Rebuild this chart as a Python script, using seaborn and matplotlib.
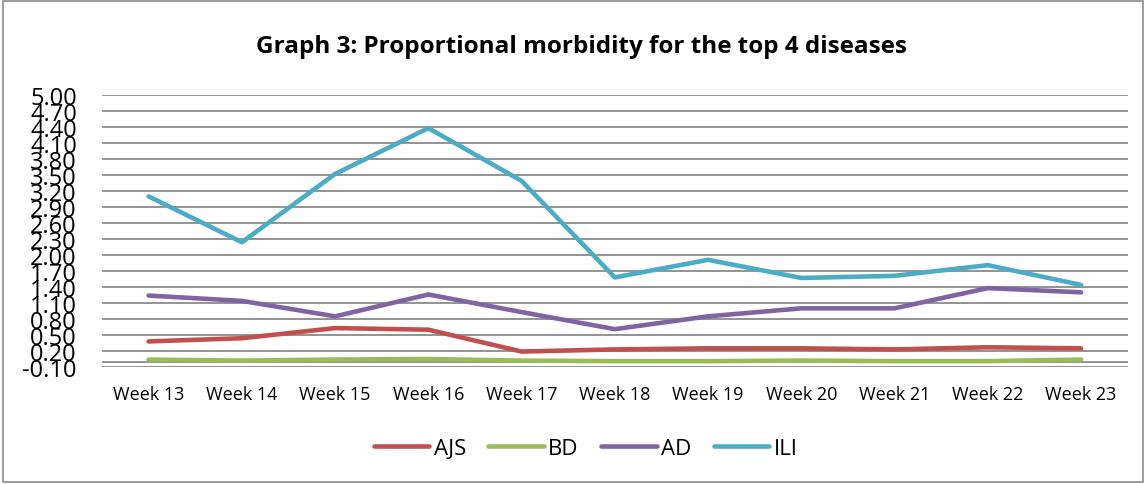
import numpy as np
import pandas as pd
import seaborn as sns
import matplotlib.pyplot as plt
from matplotlib.patches import Rectangle

# Data
weeks = ['Week 13', 'Week 14', 'Week 15', 'Week 16', 'Week 17', 'Week 18',
         'Week 19', 'Week 20', 'Week 21', 'Week 22', 'Week 23']
AJS = [0.38, 0.44, 0.63, 0.60, 0.19, 0.23, 0.25, 0.25, 0.23, 0.27, 0.25]
BD = [0.04, 0.02, 0.04, 0.05, 0.02, 0.01, 0.01, 0.02, 0.01, 0.01, 0.04]
AD = [1.24, 1.14, 0.85, 1.26, 0.93, 0.61, 0.85, 1.00, 1.00, 1.38, 1.30]
ILI = [3.10, 2.24, 3.52, 4.38, 3.39, 1.58, 1.91, 1.57, 1.61, 1.81, 1.44]
diseases = ['AJS', 'BD', 'AD', 'ILI']
colors = ['#C0504D', '#9BBB59', '#8064A2', '#4BACC6']
y_ticks = [-0.10, 0.20, 0.50, 0.80, 1.10, 1.40, 1.70, 2.00, 2.30, 2.60,
           2.90, 3.20, 3.50, 3.80, 4.10, 4.40, 4.70, 5.00]

data = pd.DataFrame({
    'Week': weeks * 4,
    'Value': AJS + BD + AD + ILI,
    'Disease': [d for d in diseases for _ in weeks],
})

sns.set_style('white')
plt.rcParams['font.family'] = ['Open Sans', 'DejaVu Sans']
plt.rcParams['text.color'] = 'black'
plt.rcParams['xtick.color'] = 'black'
plt.rcParams['ytick.color'] = 'black'

fig = plt.figure(figsize=(11.46, 4.85), dpi=100)
ax = fig.add_axes([0.089, 0.2412, 0.895, 0.5608])

# chart frame
fig.patches.append(Rectangle((0.003, 0.004), 0.994, 0.992, transform=fig.transFigure,
                             fill=False, edgecolor='#8c8c8c', linewidth=1.2))

for y in y_ticks:
    ax.axhline(y, color='#8a8a8a', linewidth=1.3, zorder=0)
ax.axhline(0, color='#8a8a8a', linewidth=1.3, zorder=0)

sns.lineplot(data=data, x='Week', y='Value', hue='Disease', hue_order=diseases,
             palette=colors, linewidth=3.3, ax=ax, sort=False)

ax.set_xlim(-0.5, len(weeks) - 0.5)
ax.set_ylim(-0.1, 5.0)
ax.set_yticks(y_ticks)
ax.set_yticklabels([f'{v:.2f}' for v in y_ticks], fontsize=17)
ax.tick_params(axis='y', length=0, pad=18)
ax.tick_params(axis='x', length=0, pad=13, labelsize=13)
for s in ax.spines.values():
    s.set_visible(False)
ax.set_xlabel('')
ax.set_ylabel('')

fig.text(0.507, 0.903, 'Graph 3: Proportional morbidity for the top 4 diseases',
         fontsize=17.5, fontweight='bold', ha='center', va='center')

ax.legend_.remove()
handles, labels = ax.get_legend_handles_labels()
fig.legend(handles, labels, loc='center', bbox_to_anchor=(0.511, 0.074), ncol=4,
           frameon=False, fontsize=16, handlelength=2.5, columnspacing=1.0,
           handletextpad=0.2)

fig.savefig('out.png', dpi=100)
